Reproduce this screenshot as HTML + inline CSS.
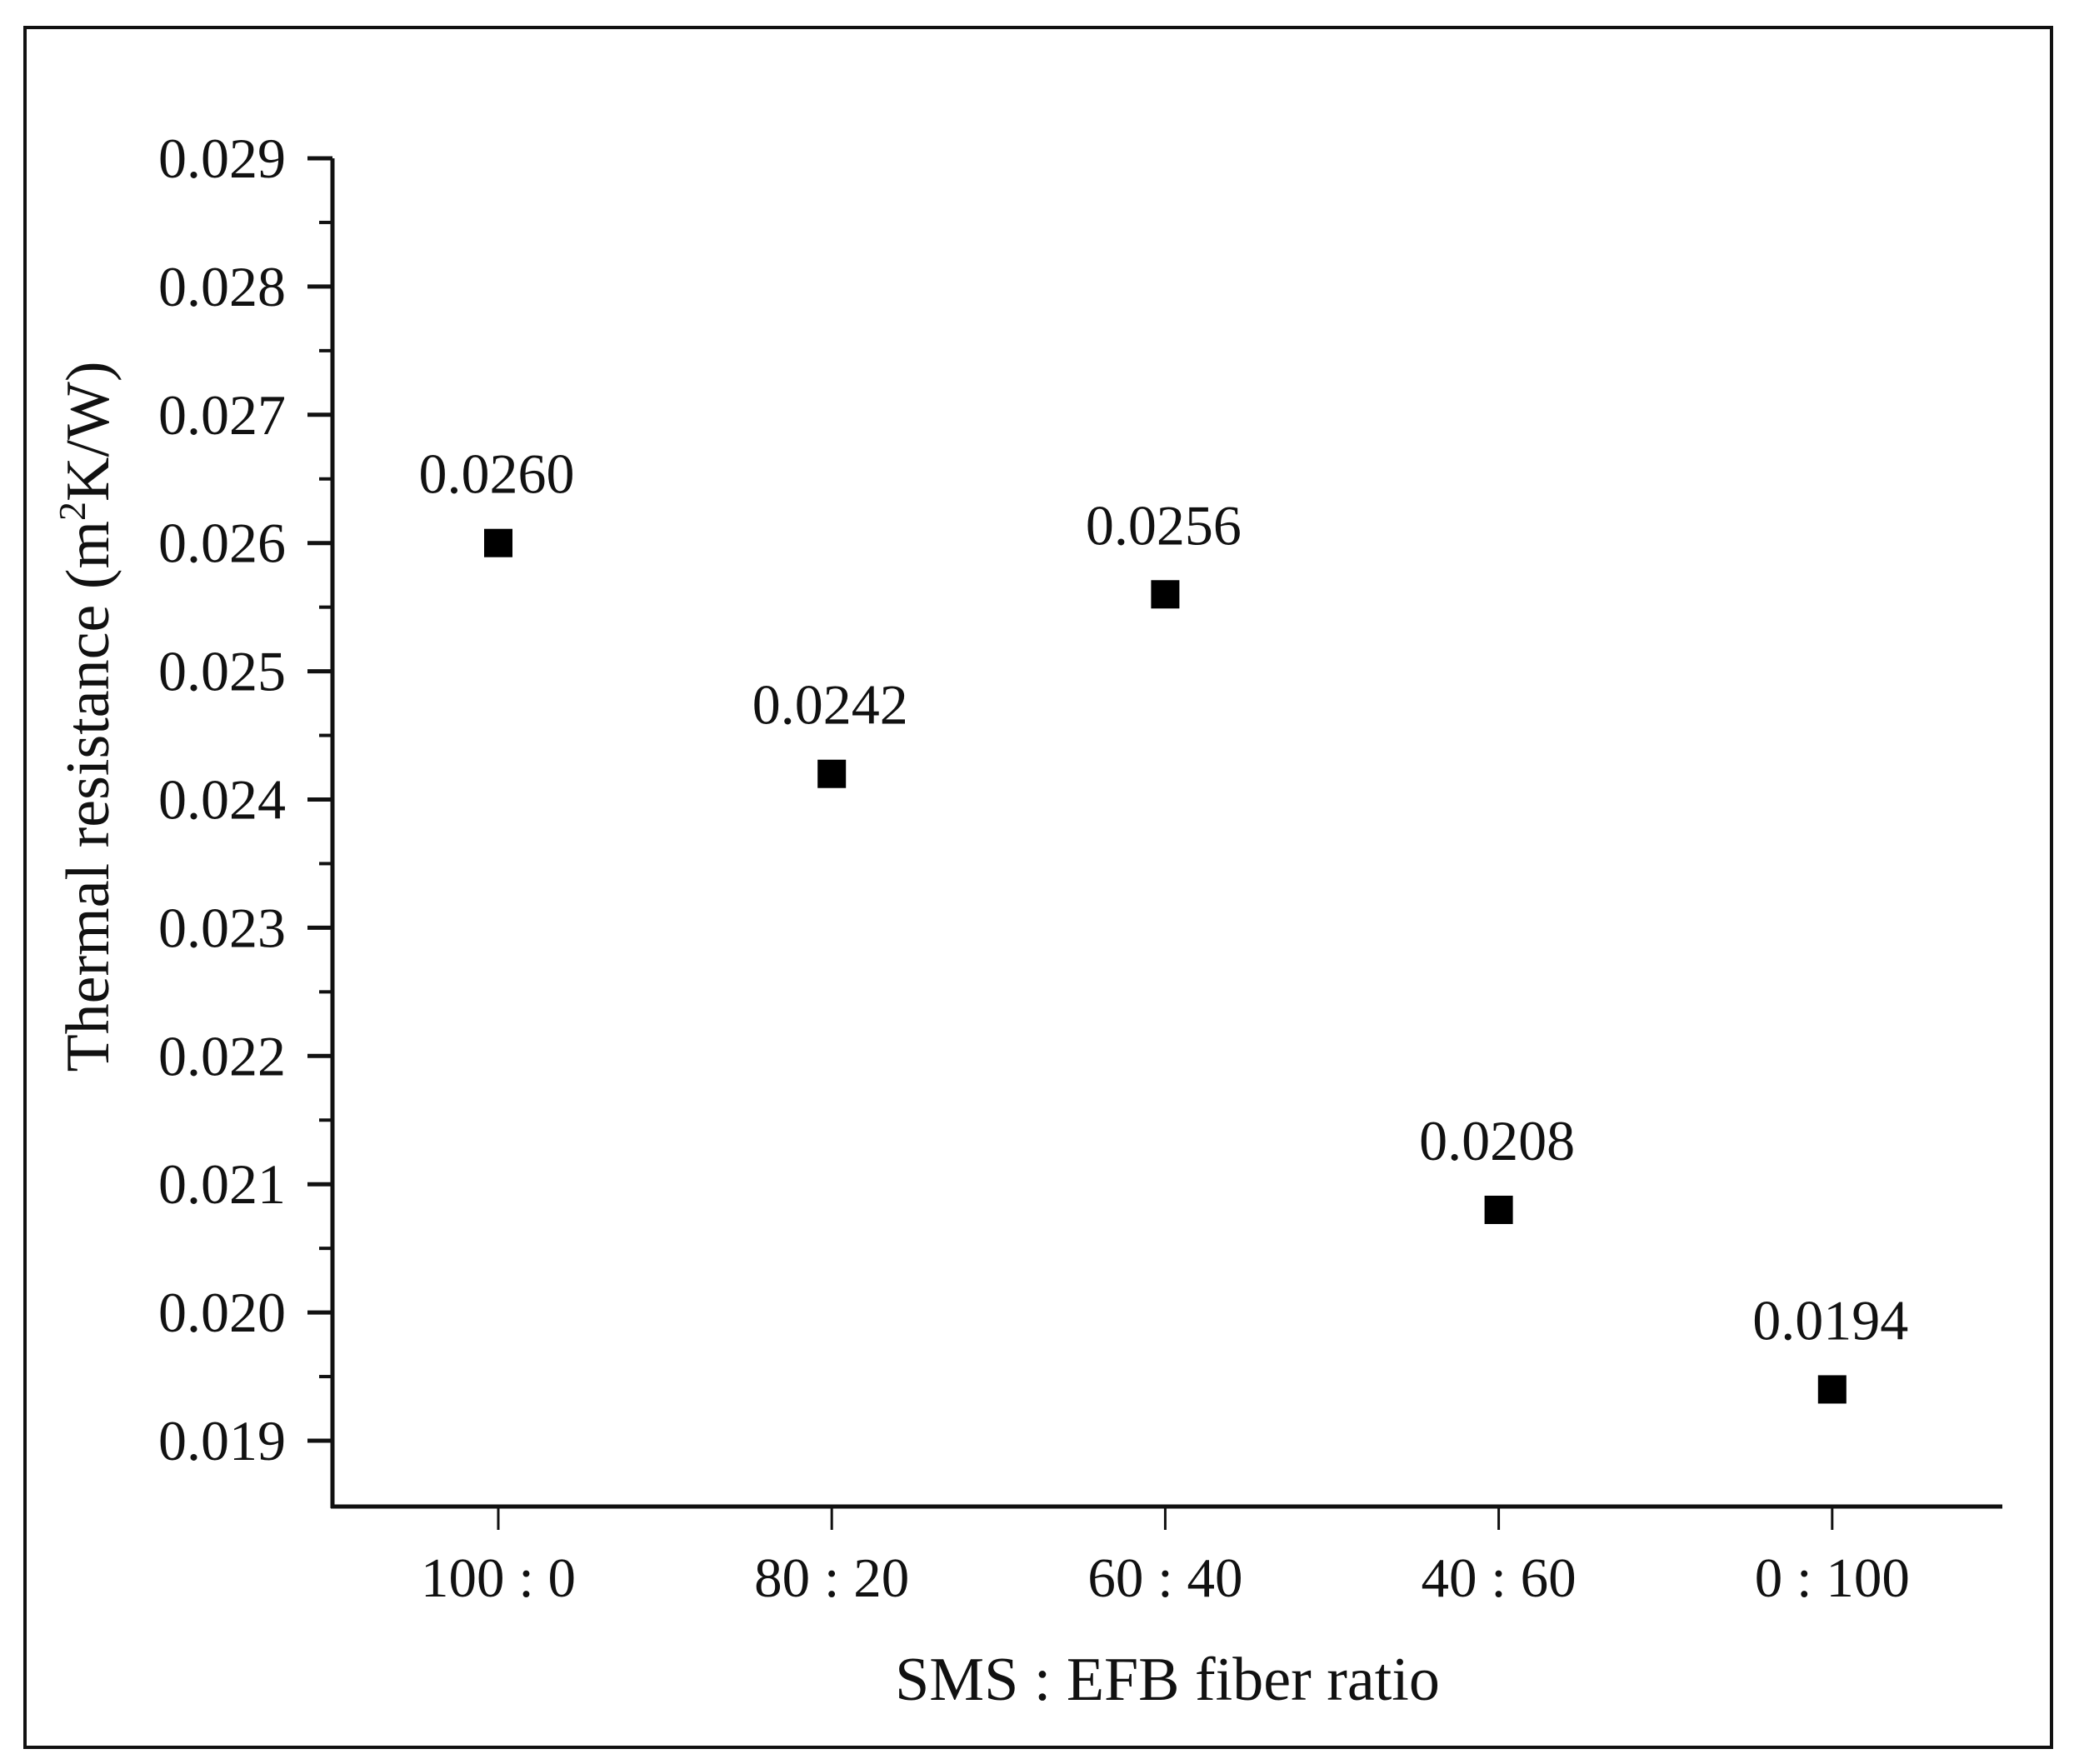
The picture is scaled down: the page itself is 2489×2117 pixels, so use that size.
<!DOCTYPE html>
<html><head><meta charset="utf-8"><style>
html,body{margin:0;padding:0;background:#fff;}
svg{display:block;}
text{font-family:"Liberation Serif",serif;fill:#111;}
</style></head><body>
<svg id="chart" width="2489" height="2117" viewBox="0 0 2489 2117">
<rect x="30" y="33" width="2432" height="2064" fill="#fff" stroke="#111" stroke-width="4"/>
<g id="axes"></g>
<g id="marks"></g>
<text x="1401" y="2040" font-size="74" text-anchor="middle">SMS : EFB fiber ratio</text>
<text transform="translate(130,860) rotate(-90)" font-size="74" text-anchor="middle">Thermal resistance  (m<tspan font-size="46" dy="-28">2</tspan><tspan dy="28">K/W)</tspan></text>
</svg>
<script>
const categories = ["100 : 0", "80 : 20", "60 : 40", "40 : 60", "0 : 100"];
const values = [0.0260, 0.0242, 0.0256, 0.0208, 0.0194];
const valueLabels = ["0.0260", "0.0242", "0.0256", "0.0208", "0.0194"];
const yTicks = [0.019, 0.020, 0.021, 0.022, 0.023, 0.024, 0.025, 0.026, 0.027, 0.028, 0.029];
const yTickLabels = ["0.019","0.020","0.021","0.022","0.023","0.024","0.025","0.026","0.027","0.028","0.029"];

const NS = "http://www.w3.org/2000/svg";
const axX = 399, axY = 1808, axRight = 2403;
const yMin = 0.019, yMax = 0.029, pyMin = 1729, pyMax = 190;
function yScale(v){ return pyMin + (v - yMin) / (yMax - yMin) * (pyMax - pyMin); }
function xScale(i){ return 598 + i * 400.2; }
function el(tag, attrs, parent){ const e = document.createElementNS(NS, tag); for (const k in attrs) e.setAttribute(k, attrs[k]); parent.appendChild(e); return e; }

const axes = document.getElementById('axes');
const marks = document.getElementById('marks');

const yl = el('line', {x1:axX, y1:pyMax, x2:axX, y2:axY+2, stroke:'#111', 'stroke-width':5}, axes);


const xl = el('line', {x1:axX-2, y1:axY, x2:axRight, y2:axY, stroke:'#111', 'stroke-width':5}, axes);



yTicks.forEach((t, i) => {
  const y = yScale(t);
  const tk = el('line', {x1:axX-30, y1:y, x2:axX, y2:y, stroke:'#111', 'stroke-width':5}, axes);
  
  
  const lb = el('text', {x:axX-56, y:y+23, 'font-size':68, 'text-anchor':'end'}, axes);
  lb.textContent = yTickLabels[i];
  
  
  if (i < yTicks.length - 1) {
    const ym = yScale((t + yTicks[i+1]) / 2);
    const mt = el('line', {x1:axX-16, y1:ym, x2:axX, y2:ym, stroke:'#111', 'stroke-width':4}, axes);
    
    
  }
});

categories.forEach((c, i) => {
  const x = xScale(i);
  const tk = el('line', {x1:x, y1:axY, x2:x, y2:axY+28, stroke:'#111', 'stroke-width':3}, axes);
  
  
  const lb = el('text', {x:x, y:axY+108, 'font-size':67, 'text-anchor':'middle'}, axes);
  lb.textContent = c;
  
  

  const y = yScale(values[i]);
  const m = el('rect', {x:x-17, y:y-17, width:34, height:34, fill:'#000'}, marks);
  
  
  const vl = el('text', {x:x-2, y:y-60, 'font-size':68, 'text-anchor':'middle'}, marks);
  vl.textContent = valueLabels[i];
  
  
});
</script>
</body></html>
